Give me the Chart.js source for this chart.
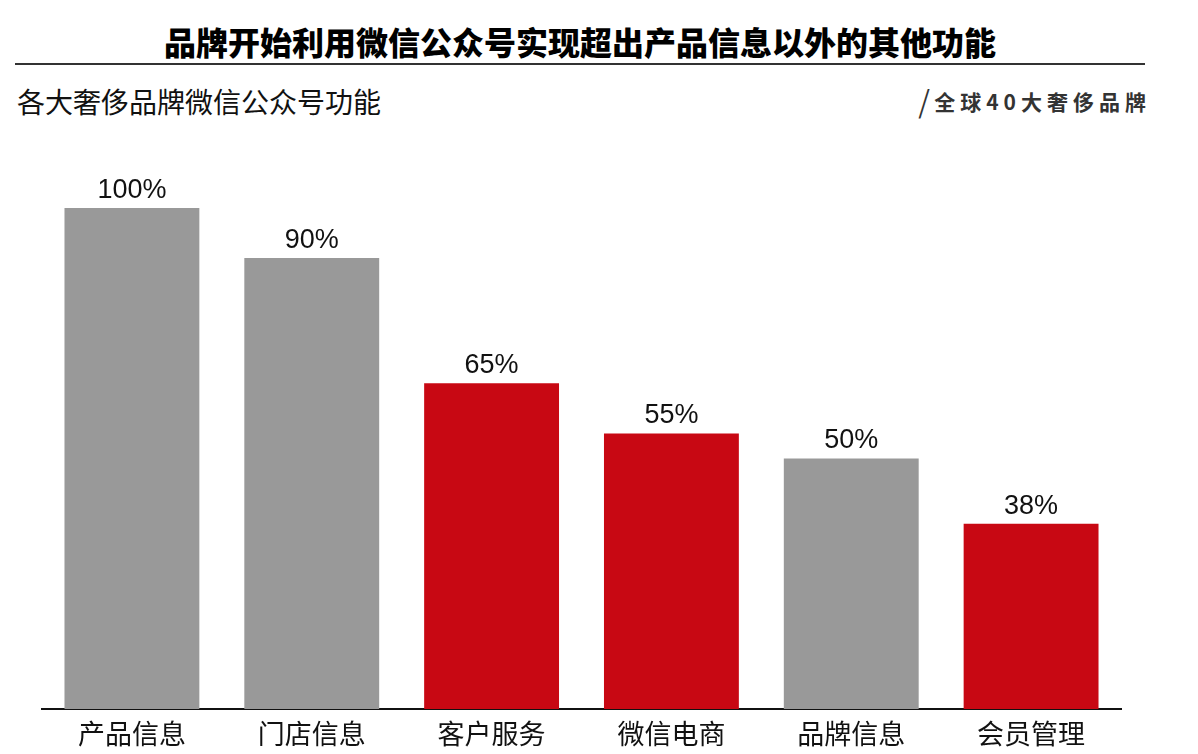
<!DOCTYPE html>
<html>
<head>
<meta charset="utf-8">
<script src="https://cdn.jsdelivr.net/npm/chart.js@4.4.1/dist/chart.umd.min.js"></script>
<style>
  html, body { margin: 0; padding: 0; background: #fff; }
  body { width: 1198px; height: 754px; position: relative; overflow: hidden; font-family: 'Noto Sans CJK SC', sans-serif; }
  #title { position: absolute; left: 0; width: 1160px; top: 21px; text-align: center; font-size: 32px; font-weight: 900; color: #000; line-height: 40px; }
  #rule { position: absolute; left: 15px; width: 1130px; top: 63px; height: 2px; background: #333; }
  #subtitle { position: absolute; left: 17px; top: 82px; font-size: 28px; color: #111; line-height: 38px; }
  #source { position: absolute; right: 47px; top: 84px; font-size: 21px; font-weight: 700; color: #333; letter-spacing: 5px; line-height: 34px; }
  #source .slash { font-family: 'DejaVu Sans', sans-serif; font-weight: 300; font-size: 36px; letter-spacing: 4px; color: #333; vertical-align: -5px; }
  #chartBox { position: absolute; left: 0; top: 0; width: 1198px; height: 758px; }
</style>
</head>
<body>
<div id="title">品牌开始利用微信公众号实现超出产品信息以外的其他功能</div>
<div id="rule"></div>
<div id="subtitle">各大奢侈品牌微信公众号功能</div>
<div id="source"><span class="slash">/</span>全球40大奢侈品牌</div>
<div id="chartBox"><canvas id="barChart" width="1198" height="758"></canvas></div>
<script>
const categories = ['产品信息', '门店信息', '客户服务', '微信电商', '品牌信息', '会员管理']
const values = [100, 90, 65, 55, 50, 37]
const valueLabels = ['100%', '90%', '65%', '55%', '50%', '38%']
const barColors = ['#999999', '#999999', '#c80813', '#c80813', '#999999', '#c80813']

// draw the percentage above each bar
const topLabels = {
  id: 'topLabels',
  afterDatasetsDraw(chart) {
    const ctx = chart.ctx
    const meta = chart.getDatasetMeta(0)
    ctx.save()
    ctx.font = '27px "Liberation Sans", Arial, sans-serif'
    ctx.fillStyle = '#111'
    ctx.textAlign = 'center'
    ctx.textBaseline = 'bottom'
    meta.data.forEach((bar, i) => {
      ctx.fillText(valueLabels[i], bar.x, bar.y - 4)
    })
    ctx.restore()
  }
}

const ctx = document.getElementById('barChart').getContext('2d')

new Chart(ctx, {
  type: 'bar',
  data: {
    labels: categories,
    datasets: [{
      data: values,
      backgroundColor: barColors,
      borderWidth: 0,
      barPercentage: 0.75,
      categoryPercentage: 1
    }]
  },
  options: {
    responsive: false,
    animation: false,
    devicePixelRatio: 1,
    layout: { padding: { top: 208, left: 42, right: 77, bottom: 0 } },
    plugins: {
      legend: { display: false },
      tooltip: { enabled: false }
    },
    scales: {
      x: {
        grid: { display: false, drawTicks: false },
        border: { display: true, color: '#111', width: 2 },
        ticks: {
          color: '#111',
          padding: 11,
          font: { family: 'Noto Sans CJK SC', size: 27, lineHeight: 1 }
        }
      },
      y: {
        display: false,
        min: 0,
        max: 100
      }
    }
  },
  plugins: [topLabels]
})
</script>
</body>
</html>
